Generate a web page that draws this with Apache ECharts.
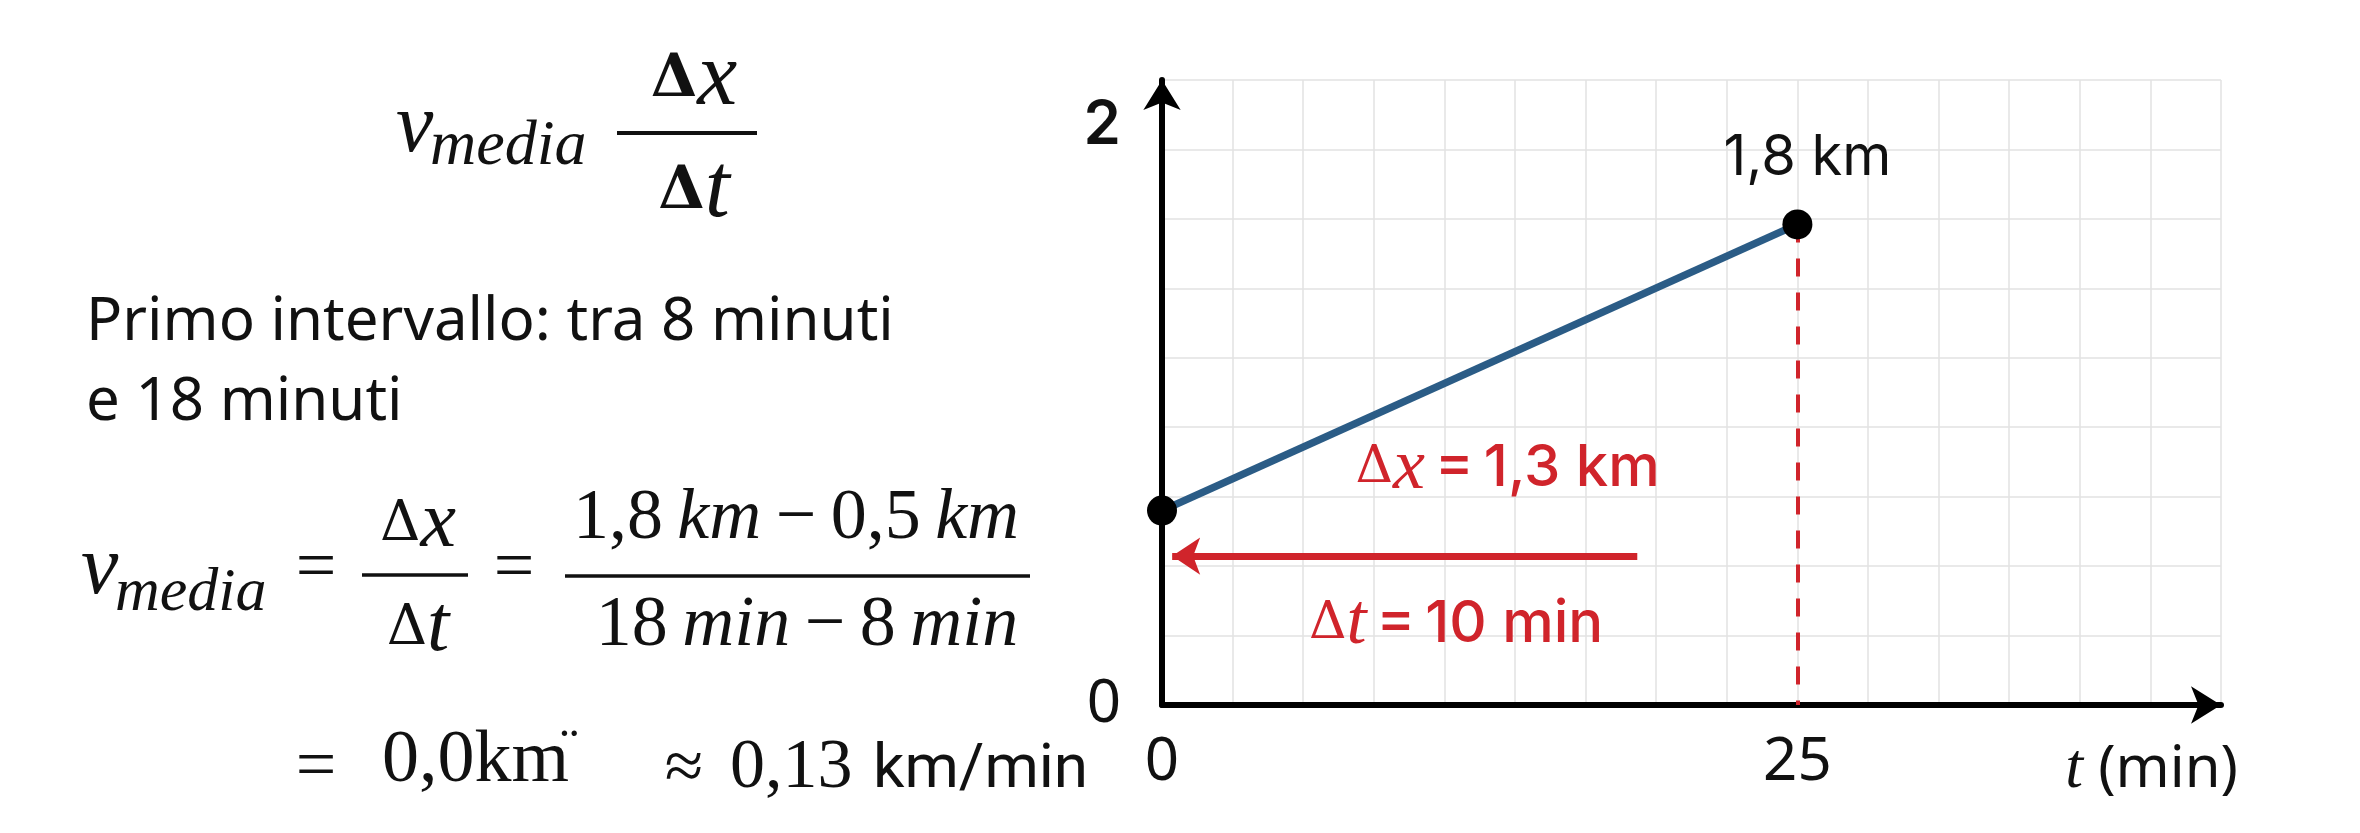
<!DOCTYPE html>
<html><head><meta charset="utf-8">
<script src="https://cdn.jsdelivr.net/npm/echarts/dist/echarts.min.js"></script>
<style>html,body{margin:0;padding:0;background:#fff}#c{width:2360px;height:833px}</style>
</head><body><div id="c"></div>
<script>
// ---------- data ----------
const timeMin = [0, 25];               // t (min) of the two marked points
const positionKm = [0.70, 1.73];       // x (km) where the points are drawn
const pointLabels = ['', '1,8 km'];
const xTickValues = [0, 25];
const xTickLabels = ['0', '25'];
const yTickValues = [0, 2];
const yTickLabels = ['0', '2'];
const xGridStep = 25 / 9;              // grid cell in minutes
const xAxisMax = 15 * 25 / 9;
const yGridStep = 0.25;
const yAxisMax = 2.25;
const dashedFrom = [25, 1.73];
const dashedTo = [25, 0];
const arrowFrom = [18.7, 0.536];
const arrowTo = [0.4, 0.536];
const annotationPos = [[13.6, 0.85], [11.57, 0.29]];
const annotationSym = ['x', 't'];
const annotationVal = ['1,3 km', '10 min'];

// ---------- styles ----------
const SERIF = '"Liberation Serif", "DejaVu Serif", serif';
const DSERIF = '"DejaVu Serif", "Liberation Serif", serif';
const SANS = '"Noto Sans", Roboto, sans-serif';
const RED = '#d0242b';
const INK = '#111111';

function T(x, y, text, size, o) {
  o = o || {};
  const al = o.align || 'left';
  return {type: 'text', x: x, y: y, silent: true, z: 10,
    style: {text: text, fontSize: size, fontFamily: o.family || SERIF,
      fontStyle: o.italic ? 'italic' : 'normal', fontWeight: o.weight || 'normal',
      fill: o.fill || INK, align: al, textAlign: al,
      verticalAlign: 'middle', textVerticalAlign: 'middle', rich: o.rich}};
}
function bar(x1, x2, y, w) {
  return {type: 'line', silent: true, z: 10, shape: {x1: x1, y1: y, x2: x2, y2: y},
    style: {stroke: INK, lineWidth: w || 3.5}};
}
function deltaRich(dSize, iSize, dWeight) {
  return {d: {fontSize: dSize, fontFamily: DSERIF, fontWeight: dWeight || 'normal', color: INK},
          i: {fontSize: iSize, fontFamily: SERIF, fontStyle: 'italic', color: INK}};
}
const fracRich = {
  u: {fontSize: 72, fontFamily: SERIF, color: INK},
  i: {fontSize: 72, fontFamily: SERIF, fontStyle: 'italic', color: INK}
};

const graphics = [
  // top formula
  T(396, 129, 'v', 84, {italic: true}),
  T(430, 147, 'media', 64, {italic: true}),
  T(694, 80, '{d|Δ}{i|x}', 60, {align: 'center', rich: deltaRich(60, 90, 'bold')}),
  bar(617, 757, 133, 4),
  T(694, 192, '{d|Δ}{i|t}', 60, {align: 'center', rich: deltaRich(60, 90, 'bold')}),
  // sentence
  T(86, 323, 'Primo intervallo: tra 8 minuti', 60, {family: SANS}),
  T(86, 403, 'e 18 minuti', 60, {family: SANS}),
  // equation
  T(81, 571, 'v', 84, {italic: true}),
  T(115, 594, 'media', 62, {italic: true}),
  T(316, 570, '=', 72, {align: 'center'}),
  T(418, 525, '{d|Δ}{i|x}', 60, {align: 'center', rich: deltaRich(56, 80)}),
  bar(362, 468, 575),
  T(418, 629, '{d|Δ}{i|t}', 60, {align: 'center', rich: deltaRich(56, 80)}),
  T(514, 570, '=', 72, {align: 'center'}),
  T(796, 519, '{u|1,8}{i|\u2009km}{u|\u2009\u2212\u20090,5}{i|\u2009km}', 72, {align: 'center', rich: fracRich}),
  bar(565, 1030, 576),
  T(807, 626, '{u|18}{i|\u2009min}{u|\u2009\u2212\u20098}{i|\u2009min}', 72, {align: 'center', rich: fracRich}),
  // last line
  T(316, 769, '=', 72, {align: 'center'}),
  T(382, 762, '0,0km', 74),
  T(560, 752, '\u00A8', 56),
  T(684, 771, '\u2248', 70, {align: 'center'}),
  T(730, 769, '0,13', 70),
  T(873, 771, 'km/min', 62, {family: 'Roboto, "Noto Sans", sans-serif'})
];

function pickLabel(values, labels, v) {
  for (let i = 0; i < values.length; i++) if (Math.abs(values[i] - v) < 1e-6) return labels[i];
  return null;
}

const chart = echarts.init(document.getElementById('c'), null, {renderer: 'canvas'});
chart.setOption({
  animation: false,
  backgroundColor: '#ffffff',
  grid: {left: 1162, top: 80, right: 139, bottom: 128, containLabel: false},
  xAxis: {
    type: 'value', min: 0, max: xAxisMax, interval: xGridStep,
    axisLine: {show: true, lineStyle: {color: '#000', width: 6}, symbol: ['none', 'arrow'], symbolSize: [28, 30]},
    axisTick: {show: false},
    splitLine: {show: true, lineStyle: {color: '#e2e2e2', width: 1.5}},
    axisLabel: {
      margin: 28, color: INK, fontFamily: '"Noto Sans", Roboto, sans-serif', fontSize: 60,
      formatter: function (v) { const l = pickLabel(xTickValues, xTickLabels, v); return l == null ? '' : l; }
    },
    name: '{t|t}{m| (min)}', nameLocation: 'end', nameGap: 17,
    nameTextStyle: {align: 'right', verticalAlign: 'middle', padding: [130, 0, 0, 0],
      rich: {t: {fontFamily: SERIF, fontStyle: 'italic', fontSize: 64, color: INK},
             m: {fontFamily: '"Noto Sans", Roboto, sans-serif', fontSize: 58, color: INK}}}
  },
  yAxis: {
    type: 'value', min: 0, max: yAxisMax, interval: yGridStep,
    axisLine: {show: true, lineStyle: {color: '#000', width: 6}, symbol: ['none', 'arrow'], symbolSize: [28, 30]},
    axisTick: {show: false},
    splitLine: {show: true, lineStyle: {color: '#e2e2e2', width: 1.5}},
    axisLabel: {
      margin: 41, color: INK,
      formatter: function (v) {
        const l = pickLabel(yTickValues, yTickLabels, v);
        if (l == null) return '';
        return v === 0 ? '{n|' + l + '}' : '{b|' + l + '}';
      },
      rich: {
        n: {fontFamily: '"Noto Sans", Roboto, sans-serif', fontSize: 60, color: INK},
        b: {fontFamily: 'Inter, "Noto Sans", sans-serif', fontWeight: 600, fontSize: 60, color: INK, padding: [0, 0, 46, 0]}
      }
    }
  },
  series: [
    {
      type: 'line', z: 5,
      data: timeMin.map(function (t, i) {
        return {value: [t, positionKm[i]], label: {show: pointLabels[i] !== '', formatter: pointLabels[i]}};
      }),
      symbol: 'circle', symbolSize: 30,
      itemStyle: {color: '#000'},
      lineStyle: {color: '#2b5c86', width: 7.5},
      label: {position: 'top', distance: 23, offset: [10, 0], color: INK, fontFamily: 'Inter, Roboto, sans-serif', fontSize: 56},
      markLine: {
        silent: true, symbol: ['none', 'none'], label: {show: false}, z: 3,
        lineStyle: {color: RED, width: 4, type: [18, 16]},
        data: [[{coord: dashedFrom}, {coord: dashedTo}]]
      }
    },
    {
      type: 'line', data: [], z: 4,
      markLine: {
        silent: true, symbol: ['none', 'arrow'], symbolSize: 28, label: {show: false},
        lineStyle: {color: RED, width: 7, type: 'solid'},
        data: [[{coord: arrowFrom}, {coord: arrowTo}]]
      }
    },
    {
      type: 'scatter', z: 6, symbolSize: 1, itemStyle: {color: RED, opacity: 0},
      data: annotationPos.map(function (p) { return p; }),
      label: {
        show: true, position: 'inside', color: RED, opacity: 1, textBorderWidth: 0,
        formatter: function (p) {
          return '{d|Δ}{v|' + annotationSym[p.dataIndex] + '}{s|\u2009=\u2009' + annotationVal[p.dataIndex] + '}';
        },
        rich: {
          d: {fontFamily: DSERIF, fontSize: 52, color: RED, textBorderWidth: 0},
          v: {fontFamily: SERIF, fontStyle: 'italic', fontSize: 72, color: RED, textBorderWidth: 0},
          s: {fontFamily: 'Inter, Roboto, sans-serif', fontWeight: 500, fontSize: 58, color: RED, textBorderWidth: 0}
        }
      }
    }
  ],
  graphic: {elements: graphics}
});
</script>
</body></html>
